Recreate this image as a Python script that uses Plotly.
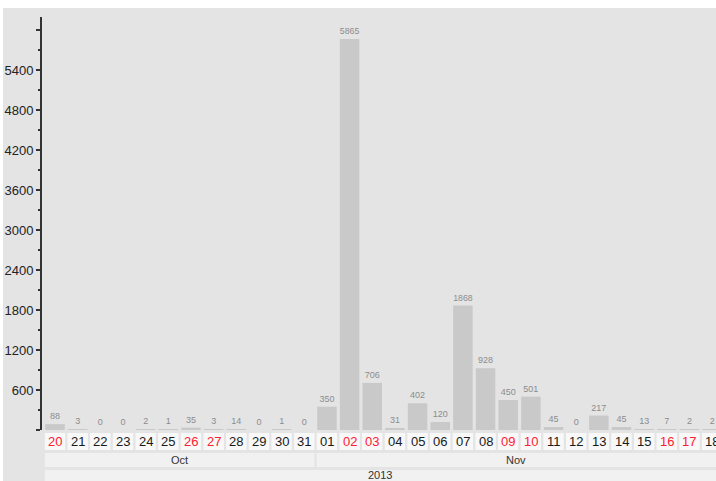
import plotly.graph_objects as go

# ---- data ----
days = ["20", "21", "22", "23", "24", "25", "26", "27", "28", "29", "30", "31",
        "01", "02", "03", "04", "05", "06", "07", "08", "09", "10", "11", "12",
        "13", "14", "15", "16", "17", "18"]
values = [88, 3, 0, 0, 2, 1, 35, 3, 14, 0, 1, 0,
          350, 5865, 706, 31, 402, 120, 1868, 928, 450, 501, 45, 0,
          217, 45, 13, 7, 2, 2]
weekend = [True, False, False, False, False, False, True, True, False, False, False, False,
           False, True, True, False, False, False, False, False, True, True, False, False,
           False, False, False, True, True, False]
months = ["Oct", "Nov"]
month_start = [0, 12]
year_label = "2013"
y_ticks = [0, 600, 1200, 1800, 2400, 3000, 3600, 4200, 4800, 5400, 6000]
y_ticktext = ["", "600", "1200", "1800", "2400", "3000", "3600", "4200", "4800", "5400", ""]

# ---- layout geometry (pixels) ----
W, H = 716, 481
plot_left, plot_top, plot_bottom = 42, 17, 430
plot_h = plot_bottom - plot_top
plot_w = W - plot_left
x_lo, x_hi = -0.575, 29.17
y_max = 6195


def py(p):  # pixel y -> paper y
    return (plot_bottom - p) / plot_h


def pxp(p):  # pixel x -> paper x
    return (p - plot_left) / plot_w


x = list(range(len(days)))

fig = go.Figure()
fig.add_trace(go.Bar(
    x=x, y=values,
    marker=dict(color="#c9c9c9", line=dict(width=0)),
    text=[str(v) for v in values],
    textposition="outside",
    textfont=dict(size=9, color="#8c8c8c", family="Liberation Sans, Arial, sans-serif"),
    cliponaxis=False,
    hoverinfo="x+y",
))

shapes = []
# gray background
shapes.append(dict(type="rect", xref="paper", yref="paper", layer="below",
                   x0=pxp(3), x1=pxp(W + 5), y0=py(H + 5), y1=py(8),
                   fillcolor="#e4e4e4", line=dict(width=0)))
# date cells
for i in x:
    shapes.append(dict(type="rect", xref="x", yref="paper", layer="above",
                       x0=i - 0.45, x1=i + 0.45, y0=py(450), y1=py(433),
                       fillcolor="#f8f8f8", line=dict(width=0)))
# month cells
bounds = month_start + [x_hi + 2]
for k, m in enumerate(months):
    shapes.append(dict(type="rect", xref="x", yref="paper", layer="above",
                       x0=bounds[k] - 0.45, x1=bounds[k + 1] - 0.55,
                       y0=py(467), y1=py(453),
                       fillcolor="#f1f1f1", line=dict(width=0)))
# year cell
shapes.append(dict(type="rect", xref="x", yref="paper", layer="above",
                   x0=-0.45, x1=x_hi + 2, y0=py(H + 5), y1=py(470),
                   fillcolor="#f1f1f1", line=dict(width=0)))

annotations = []
for i, d in enumerate(days):
    annotations.append(dict(x=i, y=py(441.5), xref="x", yref="paper", text=d,
                            showarrow=False, yanchor="middle", xanchor="center",
                            font=dict(size=13, color="#ff2030" if weekend[i] else "#1a1a1a",
                                      family="Liberation Sans, Arial, sans-serif")))
for k, m in enumerate(months):
    a = bounds[k] - 0.45
    b = min(bounds[k + 1] - 0.55, x_hi)
    annotations.append(dict(x=(a + b) / 2, y=py(460), xref="x", yref="paper", text=m,
                            showarrow=False, yanchor="middle", xanchor="center",
                            font=dict(size=11, color="#333333",
                                      family="Liberation Sans, Arial, sans-serif")))
annotations.append(dict(x=(-0.45 + x_hi) / 2, y=py(475.5), xref="x", yref="paper",
                        text=year_label, showarrow=False, yanchor="middle", xanchor="center",
                        font=dict(size=11, color="#333333",
                                  family="Liberation Sans, Arial, sans-serif")))

fig.update_layout(
    width=W, height=H,
    margin=dict(l=plot_left, r=0, t=plot_top, b=H - plot_bottom, pad=0),
    paper_bgcolor="white",
    plot_bgcolor="rgba(0,0,0,0)",
    showlegend=False,
    bargap=0.14,
    shapes=shapes,
    annotations=annotations,
    font=dict(family="Liberation Sans, Arial, sans-serif"),
)
fig.update_xaxes(range=[x_lo, x_hi], showticklabels=False, showgrid=False,
                 zeroline=False, showline=False, ticks="", automargin=False)
fig.update_yaxes(range=[0, y_max], tickmode="array", tickvals=y_ticks, ticktext=y_ticktext,
                 ticks="outside", ticklen=4, tickwidth=1.5, tickcolor="#333333",
                 showline=True, linecolor="#333333", linewidth=2,
                 showgrid=False, zeroline=False, automargin=False,
                 tickfont=dict(size=13, color="#222222",
                               family="Liberation Sans, Arial, sans-serif"),
                 minor=dict(tickmode="linear", tick0=300, dtick=600, ticks="outside",
                            ticklen=2, tickcolor="#333333", showgrid=False))

fig.write_html("out.html", config={"displayModeBar": False},
               post_script="document.body.style.margin='0px';document.body.style.overflow='hidden';")
